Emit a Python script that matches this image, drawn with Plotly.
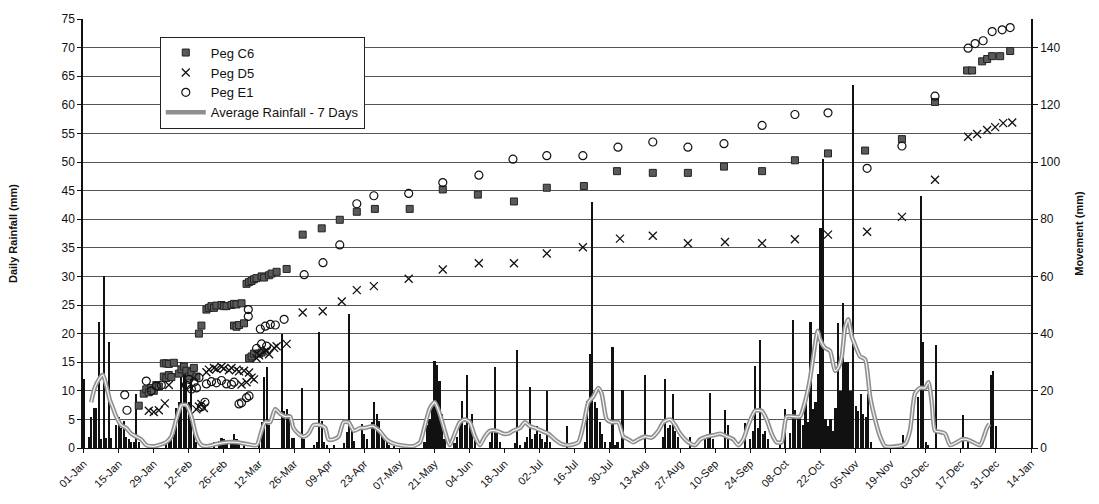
import pandas as pd
import plotly.graph_objects as go

START = pd.Timestamp("2001-01-01")

tick_labels = ["01-Jan", "15-Jan", "29-Jan", "12-Feb", "26-Feb", "12-Mar", "26-Mar",
               "09-Apr", "23-Apr", "07-May", "21-May", "04-Jun", "18-Jun", "02-Jul",
               "16-Jul", "30-Jul", "13-Aug", "27-Aug", "10-Sep", "24-Sep", "08-Oct",
               "22-Oct", "05-Nov", "19-Nov", "03-Dec", "17-Dec", "31-Dec", "14-Jan"]

# Daily rainfall (day number from 01-Jan, mm)
rain_day = [0, 2, 3, 4, 5, 6, 7, 8, 9, 10, 11, 13, 14, 15, 16, 17, 18, 19, 20, 21, 22, 27,
            33, 34, 35, 36, 37, 38, 39, 40, 41, 42, 43, 44, 45, 50, 52, 54, 55, 56, 57, 59,
            60, 61, 62, 64, 70, 71, 72, 73, 74, 79, 80, 81, 82, 83, 84, 87, 88, 92, 93, 94,
            95, 96, 97, 100, 104, 105, 106, 107, 108, 111, 112, 113, 115, 116, 117, 118, 119,
            120, 121, 122, 124, 136, 137, 138, 139, 140, 141, 142, 143, 144, 148, 149, 150,
            151, 152, 153, 154, 155, 156, 162, 163, 164, 165, 166, 172, 173, 174, 176, 177,
            178, 179, 180, 181, 182, 183, 184, 185, 186, 193, 200, 201, 202, 203, 204, 205,
            206, 207, 208, 210, 211, 212, 213, 215, 224, 231, 232, 233, 234, 235, 236, 237,
            242, 248, 249, 250, 251, 256, 257, 264, 266, 267, 268, 269, 270, 271, 272, 273,
            278, 280, 282, 283, 284, 285, 286, 287, 288, 289, 290, 291, 292, 293, 294, 295,
            296, 297, 298, 299, 300, 301, 302, 303, 304, 305, 306, 307, 308, 309, 310, 311,
            312, 313, 314, 327, 333, 334, 335, 336, 337, 340, 351, 353, 362, 363, 364]
rain_mm = [12, 2, 5.5, 7, 7, 22, 1.5, 30, 1.8, 18.5, 1.8, 4, 5.5, 3.5, 4.8, 2, 1.5, 1, 1, 9.5, 1, 0.3,
           1.0, 2.0, 1.5, 2.5, 7, 8, 15, 14, 13.5, 8, 12, 3, 1, 0.5, 1, 1.2, 1.8, 1.5, 0.8, 1,
           2.5, 1.5, 0.8, 0.5, 1.5, 4.5, 12.5, 14.2, 4, 20, 6.5, 6.8, 6, 1.7, 1.8, 10.5, 1.5, 0.5, 1, 20.3,
           4.8, 1, 0.5, 0.5, 0.8, 2.8, 23.5, 3, 1.2, 4.2, 2.5, 1.5, 4.5, 8, 6, 4.8, 2.5,
           1.5, 1, 0.5, 0.3, 1, 4, 5, 7.5, 15.2, 14.5, 11.7, 6, 1.5, 0.8, 2, 4.5,
           8.3, 4, 12.7, 4.3, 6, 1.5, 1, 3.3, 14.1, 3, 1, 0.8, 17.1, 0.5, 1, 2,
           10.6, 1.5, 2.5, 3.8, 2.5, 1.5, 1, 9.9, 1, 3.9, 1, 8.3, 16.4, 43, 8, 7,
           4.5, 2.5, 1, 1, 17.7, 0.5, 1, 10.2, 12.7, 2, 12, 3.5, 4, 9.5, 3, 2,
           1.9, 1.5, 1.8, 9.7, 1.5, 6.6, 4, 4.4, 1.5, 3, 14.3, 3.5, 18.8, 2.5, 3, 1.5,
           1, 6.9, 2.6, 22.4, 6.6, 5.5, 5.5, 4, 8.9, 4.5, 22, 6.9, 8, 13, 38.5, 50.5,
           5, 3.8, 5, 3, 7, 21.8, 10, 25.3, 15, 15, 10, 63.5, 7.4, 6.5, 9.5, 6,
           5.5, 9.4, 1, 2.3, 8.9, 44, 18.5, 1, 0.5, 18, 5.7, 1.8, 12.8, 13.4, 3.8]

# 7-day average rainfall line (day, mm)
avg_day = [3, 4.4, 6.4, 7.7, 9, 10.4, 11.7, 13, 15, 17, 19, 21, 23, 25, 28, 30, 33, 35, 37, 39, 41,
           43, 45, 47, 49, 53, 57, 61, 65, 69, 71, 72.4, 74.4, 76.4, 78.4, 80.4, 82.4, 83.7, 85.7,
           87.7, 89.7, 91.7, 94.4, 96.4, 97.7, 99.7, 101.7, 103.7, 105.7, 107.8, 110.4, 112, 115.5,
           118, 120.8, 123.5, 127.5, 131.5, 134.2, 136.2, 138.2, 140.1, 142.1, 144.1, 146.1, 148.1,
           150.1, 152.1, 154.1, 156.1, 158.1, 160.1, 162.1, 164.8, 167.4, 169.4, 171.4, 174.1, 176.1,
           178.1, 180.1, 182.7, 185.4, 188, 190.7, 194, 197.4, 199.4, 201.4, 203.4, 205.3, 206.7,
           208.7, 210.7, 213.3, 215.3, 217.3, 219.3, 221.3, 224, 226.6, 229.3, 231.3, 234, 236, 238,
           241.3, 244, 246, 248.6, 252, 254, 256.6, 259.2, 261.2, 263.2, 265.2, 267.9, 270.5, 272.5,
           274.5, 276.5, 278.5, 280.5, 283.2, 285.8, 287.8, 289.8, 291.8, 292.9, 293.8, 295.8, 297.8,
           299.8, 301.1, 302.5, 303.8, 305.1, 306.5, 307.8, 309.8, 311.8, 313.8, 315.8, 317.8, 319.8,
           324.4, 327.7, 329.7, 331.7, 333.7, 335.7, 337.1, 338.4, 339.7, 341.7, 343.7, 345.7, 348.4,
           350.4, 352.4, 355, 357.7, 360.4, 361.4]
avg_mm = [8.0, 10.5, 12.2, 12.8, 11, 8.5, 7, 5.5, 4, 3.5, 2.5, 2, 1.5, 0.5, 0.3, 0.5, 1, 2, 5, 7.5, 7.5,
          5.5, 2, 0.5, 0.3, 0.7, 1, 1, 0.7, 0.5, 3, 4.5, 4.5, 6.8, 6, 5.5, 5.5, 3.5, 2.5,
          2, 2.5, 4, 4, 3.5, 1.5, 1.5, 2, 4.5, 4.5, 3, 3.5, 3.5, 3.8,
          3, 1.5, 0.8, 0.4, 0.3, 1, 4, 7, 8, 6, 3, 0.5, 2.5,
          4.5, 5, 4.5, 2, 0.5, 2, 3, 3, 2.5, 2.5, 3, 3.5, 4.5,
          3.8, 3.5, 3, 2.5, 1.5, 0.7, 0.5, 1, 4, 8, 9, 10.5, 9.5,
          5, 4.5, 4.5, 2, 1.5, 1, 1.5, 2, 1.8, 3, 4.5, 5, 4, 2.5,
          1, 0.5, 1.5, 2, 2.3, 2.5, 2, 1.5, 0.5, 1.5, 4, 6.5, 6.5, 5,
          2.5, 1, 1, 5.5, 5.5, 5.5, 8, 12, 18, 20.5, 19, 17.5, 17,
          13.5, 14, 16, 21, 22.5, 19.5, 18, 16, 15.5, 9, 5, 2, 0.3,
          0.3, 0.7, 3, 9.5, 10.5, 10.5, 11.5, 8, 3, 2.8, 2.5, 0.5, 1,
          1.5, 1.5, 1, 0.5, 3.5, 4.2]

# Peg movements (day, mm)
c6_day = [22, 24, 25, 26, 27, 28, 29, 30, 32, 33, 34, 35, 32, 33, 34, 36, 38, 39, 40, 41, 42, 43, 44, 45,
          46, 47, 49, 50, 51, 52, 53, 55, 56, 57, 59, 60, 61, 63, 60, 61, 62, 64, 66, 67, 68, 70, 71,
          65, 66, 67, 68, 69, 71, 72, 74, 75, 77, 81,
          87.4, 95, 102.2, 109, 116.2, 130.1, 143.3, 157.3, 171.7, 184.8, 199.6, 212.8, 227.1,
          241.1, 255.5, 270.7, 283.8, 297, 311.8, 326.5, 339.7, 352.5, 354.5, 358.5, 360.5,
          362.5, 365.7, 369.7]
c6_mm = [14.8, 19, 20.5, 19.5, 21, 20, 22, 21.5, 25, 24.5, 25.5, 24.8, 29.6, 29.6, 29.4, 29.8, 26, 27.5,
         28.5, 27, 25, 26.5, 28, 25, 40, 42.8, 48.4, 49, 49.6, 49, 49.8, 50, 49.6, 49.6, 50, 50.4, 50.2,
         50.6, 42.8, 42.4, 43, 43.6, 31.4, 32, 33, 33, 33.4,
         57.4, 58, 58.4, 59, 59.4, 60, 59.6, 60.4, 61, 61.6, 62.6,
         74.6, 76.8, 79.8, 82.6, 83.6, 83.6, 90.4, 88.6, 86.2, 91, 91.6, 96.8, 96.2,
         96.2, 98.4, 96.8, 100.6, 103, 104, 108, 121, 132, 132, 135.2, 136,
         137, 137, 138.8]

d5_day = [26, 28, 30, 32.4, 34, 45, 46, 47, 48, 49, 50, 52, 53, 55, 56, 58, 59, 61, 62, 64, 66,
          63, 65, 67, 68, 69, 70, 72, 73, 74, 76, 77, 81,
          87.4, 95.4, 103, 109, 115.8, 129.7, 143.3, 157.7, 171.7, 184.8, 199.2, 214, 227.1,
          241.1, 255.9, 270.7, 283.8, 297, 312.6, 326.5, 339.7, 352.9, 356.5, 360.5, 363.7,
          366.9, 370.5]
d5_mm = [13, 12.6, 13.2, 15.6, 22, 13.5, 14.5, 15.4, 14, 26.5, 27.4, 28, 27.6, 28.4, 27.8, 27.2, 28,
         27.4, 26.8, 27, 26.4, 22.2, 23, 24.6, 24, 31.4, 32.4, 33.6, 34.2, 32.8, 35, 35.6, 36.4,
         47.4, 47.8, 51.2, 55.2, 56.6, 59.2, 62.4, 64.6, 64.6, 68, 70.2, 73.2, 74.2,
         71.6, 72, 71.6, 73, 74.6, 75.6, 80.8, 93.8, 108.8, 109.8, 111.2, 112.2,
         113.6, 113.8]

e1_day = [16.4, 17.3, 25, 27, 29, 31, 41, 42, 43, 44, 45, 46, 47, 48.4, 49, 51, 53, 55, 57, 59, 60,
          62, 63, 65, 66, 65.7, 65.7, 69, 71, 73, 70.5, 72.5, 74.5, 76.5, 80,
          88, 95.5, 102.2, 109, 115.8, 129.7, 143.3, 157.7, 171.3, 184.8, 199.2, 213.2, 227.1,
          241.1, 255.5, 270.7, 283.8, 297, 312.6, 326.5, 339.7, 352.9, 355.7, 358.9, 362.5,
          366.5, 369.7]
e1_mm = [18.6, 13.2, 23.4, 20, 21.6, 22, 22, 24, 20.6, 23, 21, 24.6, 14.4, 16, 22.4, 23.2, 22.8, 23.6,
         22.4, 22.2, 23, 15.4, 15.8, 17.6, 18.2, 48.4, 46, 34.8, 36.4, 35.6, 41.6, 42.6, 43.2, 43, 45,
         60.6, 64.8, 71, 85.4, 88.2, 89, 92.8, 95.4, 101, 102.2, 102.2, 105.2, 107,
         105.2, 106.4, 112.8, 116.6, 117.2, 97.8, 105.6, 123, 139.8, 141.4, 142.4, 145.6,
         146.2, 147]


def to_dates(days):
    return [START + pd.Timedelta(days=d) for d in days]


FONT = "Liberation Sans, Arial, sans-serif"
TITLE_FONT = "Liberation Sans Narrow, " + FONT
DAY_MS = 86400000

fig = go.Figure()

fig.add_trace(go.Bar(x=to_dates(rain_day), y=rain_mm, width=DAY_MS * 0.85,
                     marker=dict(color="#111111", line=dict(width=0)),
                     showlegend=False, name="Daily Rainfall"))

fig.add_trace(go.Scatter(x=to_dates(avg_day), y=avg_mm, mode="lines",
                         line=dict(color="#8f8f8f", width=4.5, shape="spline", smoothing=0.6),
                         name="Average Rainfall - 7 Days", legendrank=4))
fig.add_trace(go.Scatter(x=to_dates(avg_day), y=avg_mm, mode="lines",
                         line=dict(color="#f2f2f2", width=1.3, shape="spline", smoothing=0.6),
                         showlegend=False, hoverinfo="skip"))

fig.add_trace(go.Scatter(x=to_dates(c6_day), y=c6_mm, mode="markers", yaxis="y2",
                         marker=dict(symbol="square", size=7, color="#5a5a5a",
                                     line=dict(color="#222222", width=1)),
                         name="Peg C6", legendrank=1))
fig.add_trace(go.Scatter(x=to_dates(d5_day), y=d5_mm, mode="markers", yaxis="y2",
                         marker=dict(symbol="x-thin", size=8, color="#111111",
                                     line=dict(color="#111111", width=1.3)),
                         name="Peg D5", legendrank=2))
fig.add_trace(go.Scatter(x=to_dates(e1_day), y=e1_mm, mode="markers", yaxis="y2",
                         marker=dict(symbol="circle-open", size=8, color="#111111",
                                     line=dict(width=1.2)),
                         name="Peg E1", legendrank=3))

tickvals = [START + pd.Timedelta(days=14 * i) for i in range(len(tick_labels))]

fig.update_layout(
    width=1099, height=504,
    margin=dict(l=83, r=68, t=12, b=52),
    paper_bgcolor="white", plot_bgcolor="white",
    font=dict(family=FONT, size=12, color="#111111"),
    bargap=0,
    showlegend=True,
    legend=dict(x=0.081, y=0.959, xanchor="left", yanchor="top",
                bgcolor="white", bordercolor="#222222", borderwidth=1,
                font=dict(family=FONT, size=13, color="#111111"),
                traceorder="normal", itemwidth=40),
    xaxis=dict(type="date", range=[START - pd.Timedelta(hours=6), tickvals[-1]],
               tickvals=tickvals, ticktext=tick_labels, tickangle=-45,
               ticks="outside", ticklen=4, tickcolor="#111111",
               showline=True, linecolor="#111111", linewidth=1,
               showgrid=False, zeroline=False,
               tickfont=dict(family=FONT, size=11)),
    yaxis=dict(range=[0, 75], dtick=5, tick0=0,
               ticks="outside", ticklen=4, tickcolor="#111111",
               showline=True, linecolor="#111111", linewidth=1.5,
               showgrid=True, gridcolor="#555555", gridwidth=1, zeroline=False,
               tickfont=dict(family=FONT, size=12),
               title=dict(text="<b>Daily Rainfall (mm)</b>", standoff=42,
                          font=dict(family=TITLE_FONT, size=11))),
    yaxis2=dict(range=[0, 150], overlaying="y", side="right",
                tickvals=[0, 20, 40, 60, 80, 100, 120, 140],
                ticks="outside", ticklen=5, tickcolor="#111111",
                showline=True, linecolor="#111111", linewidth=1.5,
                showgrid=False, zeroline=False,
                tickfont=dict(family=FONT, size=12),
                title=dict(text="<b>Movement (mm)</b>", standoff=16,
                           font=dict(family=TITLE_FONT, size=11))),
)

fig.write_html("out.html")
